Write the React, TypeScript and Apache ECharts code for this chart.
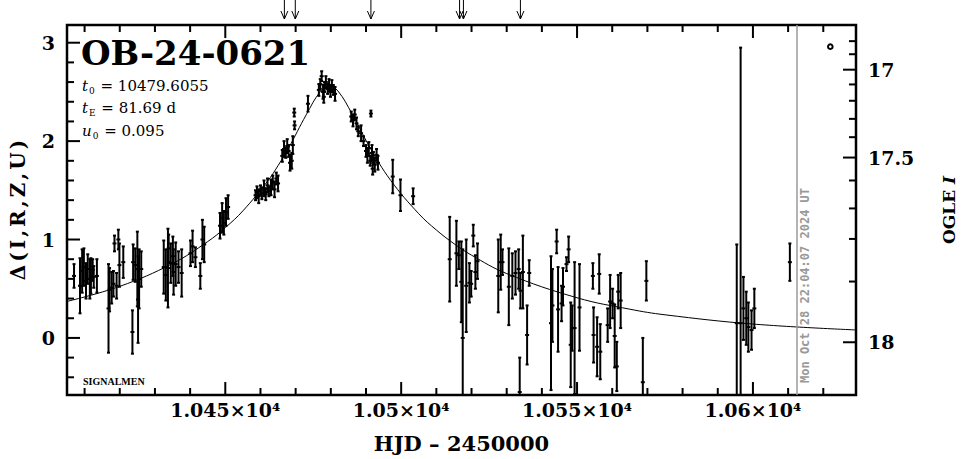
import React, { useEffect, useRef } from "react";
import * as echarts from "echarts";

// ---------- axis ranges & ticks ----------
const X_MIN = 10405.0;
const X_MAX = 10629.3;
const Y_MIN = -0.58;
const Y_MAX = 3.18;

const xLabelValues = [10450, 10500, 10550, 10600];
const xMinorTicks = [
  10410, 10420, 10430, 10440, 10460, 10470, 10480, 10490, 10510, 10520, 10530, 10540,
  10560, 10570, 10580, 10590, 10610, 10620,
];
const yLabelValues = [0, 1, 2, 3];
const yMinorTicks = [-0.4, -0.2, 0.2, 0.4, 0.6, 0.8, 1.2, 1.4, 1.6, 1.8, 2.2, 2.4, 2.6, 2.8];

// right axis (OGLE I): magnitude ticks and where they sit on the Δ scale
const rightTickMags = [16.8, 16.9, 17.0, 17.1, 17.2, 17.3, 17.4, 17.5, 17.6, 17.7, 17.8, 17.9, 18.0];
const rightTickDelta = [3.016, 2.883, 2.726, 2.576, 2.41, 2.226, 2.04, 1.833, 1.6, 1.316, 1.006, 0.573, -0.044];
const rightLabelMags = [17, 17.5, 18];

// ---------- data ----------
// [HJD-2450000, Δ, error]
const observations: [number, number, number][] = [
  [10407.0, 0.63, 0.12], [10408.7, 0.53, 0.28], [10409.3, 0.68, 0.22], [10409.8, 0.72, 0.19],
  [10410.4, 0.58, 0.18], [10410.9, 0.70, 0.15], [10411.5, 0.60, 0.20], [10411.8, 0.63, 0.18],
  [10412.3, 0.69, 0.11], [10412.6, 0.62, 0.11], [10413.5, 0.63, 0.17],
  [10416.8, 0.30, 0.45], [10417.1, 0.49, 0.22], [10417.7, 0.51, 0.16], [10418.2, 0.55, 0.13],
  [10418.5, 0.96, 0.08], [10419.1, 0.53, 0.13], [10419.6, 1.00, 0.10], [10419.9, 0.74, 0.22],
  [10421.0, 0.77, 0.16],
  [10423.6, 0.06, 0.22], [10423.8, 0.77, 0.18], [10424.4, 0.74, 0.17], [10425.0, 0.70, 0.38],
  [10425.2, 0.39, 0.44], [10425.5, 0.60, 0.30], [10426.1, 0.70, 0.18],
  [10432.5, 0.72, 0.27], [10433.1, 0.64, 0.26], [10433.7, 0.71, 0.40], [10433.9, 0.91, 0.14],
  [10434.5, 0.76, 0.20], [10435.1, 0.83, 0.20], [10435.3, 0.67, 0.23], [10435.9, 0.75, 0.22],
  [10436.7, 0.72, 0.16], [10437.6, 0.66, 0.24],
  [10440.1, 0.86, 0.13], [10440.7, 0.93, 0.16], [10441.5, 0.82, 0.10], [10442.9, 0.63, 0.13],
  [10443.5, 1.00, 0.20], [10444.0, 0.95, 0.18],
  [10448.5, 1.14, 0.13], [10449.1, 1.22, 0.15], [10449.6, 1.17, 0.12], [10450.2, 1.28, 0.14],
  [10450.8, 1.33, 0.12],
  [10458.6, 1.45, 0.05], [10459.0, 1.48, 0.06], [10459.5, 1.44, 0.07], [10460.0, 1.50, 0.05],
  [10460.4, 1.47, 0.06], [10461.0, 1.52, 0.08], [10461.5, 1.46, 0.06], [10462.0, 1.55, 0.07],
  [10462.4, 1.49, 0.05], [10463.0, 1.53, 0.08], [10463.5, 1.58, 0.07], [10464.0, 1.51, 0.08],
  [10464.5, 1.62, 0.06], [10465.0, 1.57, 0.08],
  [10466.2, 1.85, 0.06], [10466.7, 1.92, 0.08], [10467.2, 1.88, 0.05], [10467.6, 1.95, 0.07],
  [10468.0, 1.90, 0.06], [10468.4, 1.78, 0.08], [10468.9, 1.80, 0.08], [10469.2, 1.96, 0.09],
  [10469.6, 2.29, 0.04], [10469.7, 2.16, 0.04], [10473.5, 2.38, 0.08],
  [10476.6, 2.52, 0.06], [10477.0, 2.58, 0.05], [10477.4, 2.66, 0.05], [10477.8, 2.50, 0.07],
  [10478.0, 2.45, 0.06], [10478.2, 2.55, 0.05], [10478.6, 2.60, 0.06], [10479.1, 2.53, 0.05],
  [10479.5, 2.57, 0.06], [10479.9, 2.50, 0.05], [10480.3, 2.56, 0.06], [10480.7, 2.52, 0.05],
  [10481.2, 2.48, 0.07],
  [10485.8, 2.25, 0.05], [10486.3, 2.21, 0.06], [10486.8, 2.27, 0.05], [10487.3, 2.18, 0.06],
  [10487.8, 2.10, 0.05], [10488.6, 2.08, 0.08], [10489.3, 2.00, 0.05], [10491.4, 2.28, 0.03],
  [10490.0, 1.90, 0.06], [10490.4, 1.85, 0.07], [10490.8, 1.93, 0.06], [10491.2, 1.80, 0.05],
  [10491.7, 1.88, 0.08], [10491.9, 1.72, 0.06], [10492.1, 1.83, 0.06], [10492.5, 1.76, 0.07],
  [10493.0, 1.86, 0.06], [10493.4, 1.78, 0.07],
  [10497.6, 1.64, 0.17], [10499.8, 1.45, 0.16], [10503.4, 1.44, 0.08],
  [10513.8, 0.80, 0.43], [10515.7, 0.86, 0.33], [10516.4, 0.84, 0.14], [10517.1, 0.57, 0.41],
  [10517.5, 0.00, 0.90], [10518.5, 0.53, 0.47], [10519.4, 0.56, 0.20], [10519.9, 0.55, 0.13],
  [10520.5, 1.04, 0.11], [10521.1, 0.67, 0.17], [10521.7, 0.78, 0.18],
  [10527.6, 0.63, 0.37], [10528.3, 0.77, 0.28], [10528.8, 0.77, 0.13], [10530.6, 0.52, 0.39],
  [10531.6, 0.63, 0.23], [10532.5, 0.66, 0.22], [10533.4, 0.70, 0.20], [10533.7, -0.55, 0.35],
  [10533.9, 0.48, 0.18], [10534.6, 0.67, 0.37], [10535.8, 0.03, 0.30], [10536.4, 0.66, 0.13],
  [10542.6, 0.15, 0.68], [10543.0, 0.33, 0.37], [10544.2, 0.98, 0.12], [10544.6, 0.29, 0.43],
  [10545.6, 0.35, 0.18], [10546.0, 0.52, 0.19], [10547.0, 0.75, 0.07], [10547.6, 0.90, 0.13],
  [10548.2, -0.07, 0.43], [10548.6, 0.10, 0.23], [10549.3, 0.10, 0.67], [10550.7, 0.31, 0.44],
  [10554.5, 0.63, 0.13], [10554.7, 0.03, 0.28], [10555.7, -0.09, 0.30], [10556.3, 0.65, 0.20],
  [10556.6, -0.14, 0.28],
  [10558.7, 0.13, 0.17], [10559.4, 0.37, 0.27], [10560.1, 0.35, 0.15], [10560.7, 0.02, 0.32],
  [10561.3, -0.29, 0.25], [10561.7, 0.47, 0.17], [10562.4, 0.38, 0.28],
  [10568.7, -0.45, 0.45], [10569.7, 0.58, 0.20],
  [10595.4, 0.15, 0.80], [10596.5, 0.15, 2.80], [10597.3, 0.30, 0.32], [10598.1, 0.20, 0.27],
  [10598.7, 0.11, 0.25], [10599.6, 0.08, 0.20], [10600.4, 0.30, 0.20], [10610.5, 0.77, 0.19],
];

// fitted model curve
const modelTime = [
  10405, 10420, 10435, 10445, 10450, 10455, 10462, 10465, 10468, 10473, 10477, 10479.6, 10482,
  10486, 10491, 10497, 10505, 10510, 10515, 10520, 10530, 10550, 10565, 10575, 10600, 10629.3,
];
const modelDelta = [
  0.371, 0.524, 0.756, 0.979, 1.121, 1.291, 1.592, 1.751, 1.93, 2.267, 2.502, 2.559, 2.51,
  2.28, 1.943, 1.602, 1.262, 1.097, 0.958, 0.841, 0.654, 0.408, 0.292, 0.235, 0.141, 0.081,
];

// alert arrows on top, "now" line and legend marker
const alertTimes = [10466.8, 10469.9, 10491.4, 10516.6, 10517.7, 10533.9];
const nowTime = 10612.4;
const nowText = "Mon Oct 28 22:04:07 2024 UT";
const markerPoint: [number, number] = [10622.0, 2.96];

const titleText = "OB-24-0621";
const paramT0 = "10479.6055";
const paramTE = "81.69 d";
const paramU0 = "0.095";
const yAxisTitle = "Δ(I,R,Z,U)";

const SERIF = '"DejaVu Serif", serif';

export default function App() {
  const ref = useRef<HTMLDivElement>(null);

  useEffect(() => {
    if (!ref.current) return;
    const chart = echarts.init(ref.current, null, { renderer: "svg" });

    // ticks: [side, value, major]  side 0 bottom,1 top,2 left,3 right
    const tickData: number[][] = [];
    xLabelValues.forEach((v) => { tickData.push([0, v, 1]); tickData.push([1, v, 1]); });
    xMinorTicks.forEach((v) => { tickData.push([0, v, 0]); tickData.push([1, v, 0]); });
    yLabelValues.forEach((v) => tickData.push([2, v, 1]));
    yMinorTicks.forEach((v) => tickData.push([2, v, 0]));
    rightTickMags.forEach((m, i) =>
      tickData.push([3, rightTickDelta[i], rightLabelMags.includes(m) ? 1 : 0])
    );

    const rightLabelData = rightLabelMags.map((m) => [X_MAX, rightTickDelta[rightTickMags.indexOf(m)], m]);

    const rich = {
      it: { fontFamily: SERIF, fontSize: 15, fontStyle: "italic", lineHeight: 20, color: "#000" },
      n: { fontFamily: SERIF, fontSize: 15, lineHeight: 20, color: "#000" },
      sb: { fontFamily: SERIF, fontSize: 9, lineHeight: 20, verticalAlign: "bottom", color: "#000", padding: [0, 1, 0, 1] },
    };

    const yName = Array.from(yAxisTitle).map((c) => `{c|${c}}`).join("");

    const option: any = {
      animation: false,
      backgroundColor: "#fff",
      grid: {
        left: 62, top: 25, width: 800, height: 376,
        show: true, borderColor: "#000", borderWidth: 2.5, backgroundColor: "transparent",
      },
      xAxis: {
        type: "value", min: X_MIN, max: X_MAX,
        axisLine: { show: false }, axisTick: { show: false }, splitLine: { show: false },
        axisLabel: {
          margin: 5, color: "#000", fontFamily: SERIF, fontWeight: "bold", fontSize: 19,
          showMinLabel: false, showMaxLabel: false,
          formatter: (v: number) => (xLabelValues.includes(v) ? `${v / 10000}×10⁴` : ""),
        },
        name: "HJD – 2450000", nameLocation: "middle", nameGap: 38,
        nameTextStyle: { color: "#000", fontFamily: SERIF, fontWeight: "bold", fontSize: 21 },
      },
      yAxis: [
        {
          type: "value", min: Y_MIN, max: Y_MAX,
          axisLine: { show: false }, axisTick: { show: false }, splitLine: { show: false },
          axisLabel: {
            margin: 12, color: "#000", fontFamily: SERIF, fontWeight: "bold", fontSize: 19,
            showMinLabel: false, showMaxLabel: false,
            formatter: (v: number) => (yLabelValues.includes(v) ? String(v) : ""),
          },
          name: yName, nameLocation: "middle", nameGap: 39, nameRotate: 90,
          nameTextStyle: {
            rich: {
              c: { color: "#000", fontFamily: SERIF, fontWeight: "bold", fontSize: 20, padding: [0, 1.5, 0, 1.5] },
            },
          },
        },
        {
          type: "value", min: Y_MIN, max: Y_MAX, position: "right",
          axisLine: { show: false }, axisTick: { show: false }, splitLine: { show: false },
          axisLabel: { show: false },
          name: "{b|OGLE }{i|I}", nameLocation: "middle", nameGap: 84, nameRotate: 90,
          nameTextStyle: {
            rich: {
              b: { color: "#000", fontFamily: SERIF, fontWeight: "bold", fontSize: 17 },
              i: { color: "#000", fontFamily: SERIF, fontWeight: "bold", fontStyle: "italic", fontSize: 17 },
            },
          },
        },
      ],
      graphic: [
        {
          type: "text", left: 81, top: 36,
          style: { text: titleText, font: `bold 34px ${SERIF}`, fill: "#000" },
        },
        {
          type: "text", left: 82, top: 78,
          style: { text: `{it|t}{sb|0}{n| = ${paramT0}}`, rich },
        },
        {
          type: "text", left: 82, top: 100,
          style: { text: `{it|t}{sb|E}{n| = ${paramTE}}`, rich },
        },
        {
          type: "text", left: 82, top: 123,
          style: { text: `{it|u}{sb|0}{n| = ${paramU0}}`, rich },
        },
        {
          type: "text", left: 83, top: 376,
          style: { text: "SIGNALMEN", font: 'bold 10px "Liberation Serif"', fill: "#000" },
        },
      ],
      series: [
        {
          type: "line",
          data: modelTime.map((t, i) => [t, modelDelta[i]]),
          smooth: 0.4, showSymbol: false, silent: true, clip: true,
          lineStyle: { color: "#000", width: 1 },
          markLine: {
            silent: true, symbol: ["none", "none"], animation: false,
            lineStyle: { color: "#9a9a9a", width: 1.5, type: "solid" },
            label: {
              show: true, formatter: nowText, position: "insideStartBottom",
              color: "#999", fontFamily: '"DejaVu Sans Mono", monospace', fontWeight: "bold", fontSize: 12,
              distance: [12, 2],
            },
            data: [{ xAxis: nowTime }],
          },
        },
        {
          type: "custom",
          data: observations,
          clip: true,
          silent: true,
          renderItem: (_p: any, api: any) => {
            const t = api.value(0), d = api.value(1), e = api.value(2);
            const top = api.coord([t, d + e]);
            const bot = api.coord([t, d - e]);
            const c = api.coord([t, d]);
            const st = { stroke: "#000", lineWidth: 2 };
            return {
              type: "group",
              children: [
                { type: "line", shape: { x1: top[0], y1: top[1], x2: bot[0], y2: bot[1] }, style: st },
                { type: "line", shape: { x1: top[0] - 1.5, y1: top[1], x2: top[0] + 1.5, y2: top[1] }, style: st },
                { type: "line", shape: { x1: bot[0] - 1.5, y1: bot[1], x2: bot[0] + 1.5, y2: bot[1] }, style: st },
                { type: "line", shape: { x1: c[0] - 2, y1: c[1], x2: c[0] + 2, y2: c[1] }, style: st },
              ],
            };
          },
        },
        {
          type: "custom",
          data: tickData,
          clip: false,
          silent: true,
          renderItem: (_p: any, api: any) => {
            const side = api.value(0), v = api.value(1), major = api.value(2);
            const len = major ? 13 : 7;
            let x1 = 0, y1 = 0, x2 = 0, y2 = 0;
            if (side === 0) { const p = api.coord([v, Y_MIN]); x1 = x2 = p[0]; y1 = p[1]; y2 = p[1] - len; }
            else if (side === 1) { const p = api.coord([v, Y_MAX]); x1 = x2 = p[0]; y1 = p[1]; y2 = p[1] + len; }
            else if (side === 2) { const p = api.coord([X_MIN, v]); y1 = y2 = p[1]; x1 = p[0]; x2 = p[0] + len; }
            else { const p = api.coord([X_MAX, v]); y1 = y2 = p[1]; x1 = p[0]; x2 = p[0] - len; }
            return { type: "line", shape: { x1, y1, x2, y2 }, style: { stroke: "#000", lineWidth: 2 } };
          },
        },
        {
          type: "custom",
          data: rightLabelData,
          clip: false,
          silent: true,
          renderItem: (_p: any, api: any) => {
            const p = api.coord([api.value(0), api.value(1)]);
            return {
              type: "text", x: p[0] + 12, y: p[1],
              style: {
                text: String(api.value(2)), fill: "#000", font: `bold 19px ${SERIF}`,
                align: "left", verticalAlign: "middle",
              },
            };
          },
        },
        {
          type: "custom",
          data: alertTimes.map((t) => [t, Y_MAX]),
          clip: false,
          silent: true,
          renderItem: (_p: any, api: any) => {
            const p = api.coord([api.value(0), api.value(1)]);
            const x = p[0], yb = p[1] - 6, yt = p[1] - 26;
            const st = { stroke: "#000", lineWidth: 1, fill: "none" };
            return {
              type: "group",
              children: [
                { type: "line", shape: { x1: x, y1: yt, x2: x, y2: yb }, style: st },
                { type: "polyline", shape: { points: [[x - 3.5, yb - 8], [x, yb], [x + 3.5, yb - 8]] }, style: st },
              ],
            };
          },
        },
        {
          type: "custom",
          data: [markerPoint],
          clip: false,
          silent: true,
          renderItem: (_p: any, api: any) => {
            const p = api.coord([api.value(0), api.value(1)]);
            return {
              type: "circle", shape: { cx: p[0], cy: p[1], r: 2.3 },
              style: { fill: "#fff", stroke: "#000", lineWidth: 2 },
            };
          },
        },
      ],
    };

    chart.setOption(option);
    return () => chart.dispose();
  }, []);

  return (
    <div
      ref={ref}
      style={{ position: "absolute", left: 0, top: 0, width: 965, height: 459, background: "#fff" }}
    />
  );
}
